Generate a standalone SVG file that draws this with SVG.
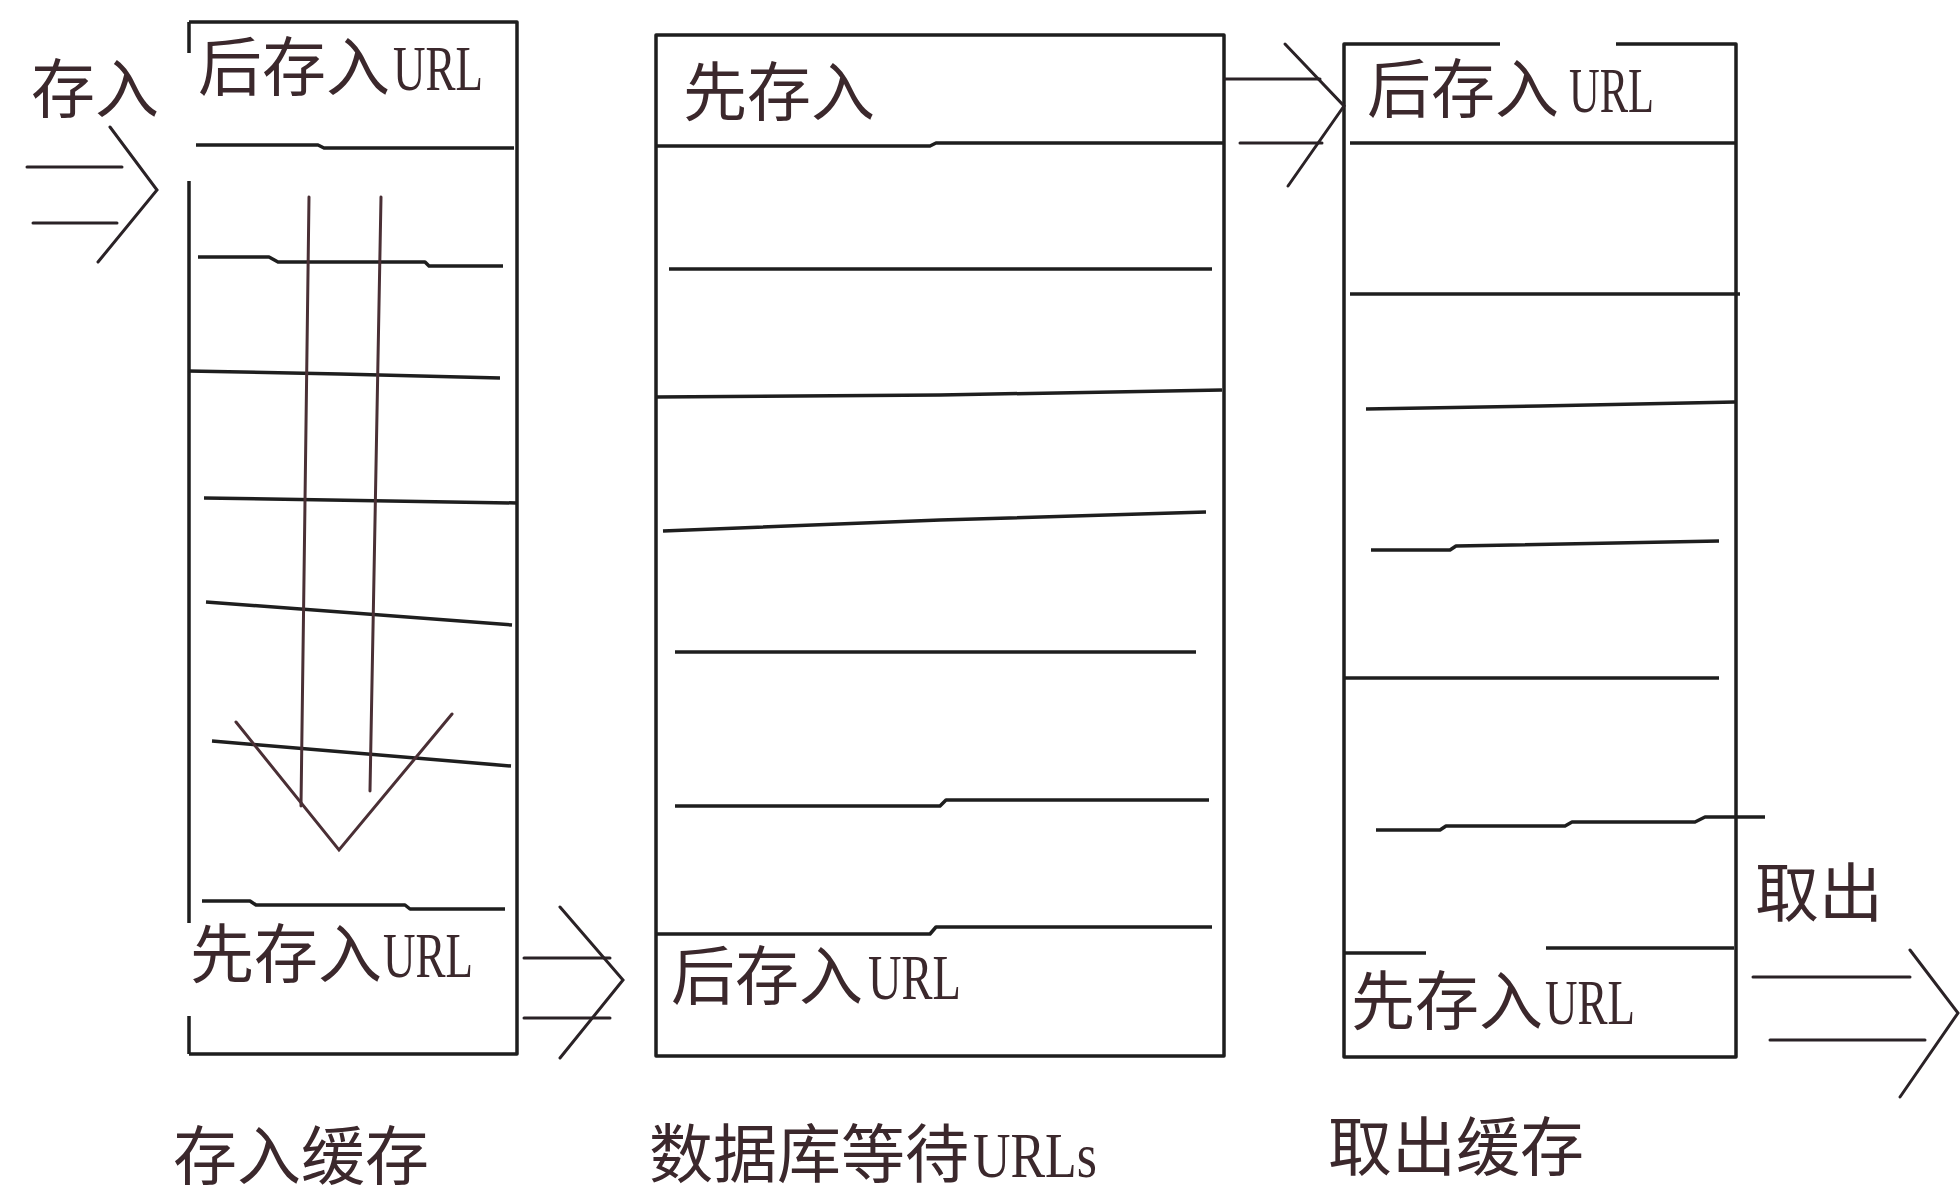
<svg xmlns="http://www.w3.org/2000/svg" width="1960" height="1198" viewBox="0 0 1960 1198">
<style>
.bg{fill:#ffffff}
.ln{fill:none;stroke:#1e1e1e;stroke-width:3.5;stroke-linejoin:round;stroke-linecap:butt}
.ar{fill:none;stroke:#2a2226;stroke-width:3;stroke-linecap:round;stroke-linejoin:miter}
.red{fill:none;stroke:#4a2f35;stroke-width:3;stroke-linecap:round}
.t{font-family:"Noto Sans CJK SC","Noto Sans CJK JP",sans-serif;font-size:64px;fill:#3b282c}
.u{font-family:"Liberation Serif",serif;font-size:64px}
</style>
<rect class="bg" x="0" y="0" width="1960" height="1198"/>

<g id="store-cache">
  <path class="ln" d="M189,22 H517 V1054 H189 M189,22 V53 M189,181 V923 M189,1016 V1054"/>
  <polyline class="ln" points="196,145 318,145 324,148 514,148"/>
  <polyline class="ln" points="198,257 269,257 278,262 425,262 429,266 503,266"/>
  <polyline class="ln" points="188,371 340,374 500,378"/>
  <polyline class="ln" points="204,498 517,503"/>
  <polyline class="ln" points="206,602 512,625"/>
  <polyline class="ln" points="212,741 511,766"/>
  <polyline class="ln" points="202,901 250,901 256,905 405,905 410,909 505,909"/>
  <text class="t" y="90"><tspan x="198">后存入</tspan><tspan class="u" x="393" textLength="90" lengthAdjust="spacingAndGlyphs">URL</tspan></text>
  <text class="t" y="977"><tspan x="190">先存入</tspan><tspan class="u" x="383" textLength="90" lengthAdjust="spacingAndGlyphs">URL</tspan></text>
  <g id="push-down-arrow">
    <line class="red" x1="309" y1="197" x2="301" y2="806"/>
    <line class="red" x1="381" y1="197" x2="370" y2="791"/>
    <polyline class="red" points="236,722 339,850 452,714"/>
  </g>
</g>

<g id="db-waiting">
  <rect class="ln" x="656" y="35" width="568" height="1021"/>
  <polyline class="ln" points="656,146 930,146 936,143 1224,143"/>
  <polyline class="ln" points="669,269 1212,269"/>
  <polyline class="ln" points="656,397 940,395 1222,390"/>
  <polyline class="ln" points="663,531 940,520 1206,512"/>
  <polyline class="ln" points="675,652 1196,652"/>
  <polyline class="ln" points="675,806 940,806 946,800 1209,800"/>
  <polyline class="ln" points="656,934 930,934 936,927 1212,927"/>
  <text class="t" y="115"><tspan x="683">先存入</tspan></text>
  <text class="t" y="999"><tspan x="671">后存入</tspan><tspan class="u" x="868" textLength="93" lengthAdjust="spacingAndGlyphs">URL</tspan></text>
</g>

<g id="fetch-cache">
  <path class="ln" d="M1500,44 H1344 V1057 H1736 V44 H1616"/>
  <polyline class="ln" points="1350,143 1735,143"/>
  <polyline class="ln" points="1350,294 1740,294"/>
  <polyline class="ln" points="1366,409 1540,406 1735,402"/>
  <polyline class="ln" points="1371,550 1450,550 1456,546 1719,541"/>
  <polyline class="ln" points="1344,678 1719,678"/>
  <polyline class="ln" points="1376,830 1440,830 1446,826 1565,826 1572,822 1695,822 1705,817 1765,817"/>
  <polyline class="ln" points="1344,953 1426,953"/>
  <polyline class="ln" points="1546,948 1734,948"/>
  <text class="t" y="112"><tspan x="1367">后存入</tspan><tspan class="u" x="1569" textLength="85" lengthAdjust="spacingAndGlyphs">URL</tspan></text>
  <text class="t" y="1024"><tspan x="1351">先存入</tspan><tspan class="u" x="1545" textLength="90" lengthAdjust="spacingAndGlyphs">URL</tspan></text>
</g>

<g id="labels">
  <text id="label-in" class="t" x="31" y="112">存入</text>
  <text id="label-out" class="t" x="1755" y="916">取出</text>
  <text id="caption-store" class="t" x="173" y="1179">存入缓存</text>
  <text id="caption-db" class="t" y="1177"><tspan x="649">数据库等待</tspan><tspan class="u" x="973" textLength="124" lengthAdjust="spacingAndGlyphs">URLs</tspan></text>
  <text id="caption-fetch" class="t" x="1328" y="1170">取出缓存</text>
</g>

<g id="connectors">
  <g id="arrow-in">
    <line class="ar" x1="27" y1="167" x2="122" y2="167"/>
    <line class="ar" x1="33" y1="223" x2="117" y2="223"/>
    <polyline class="ar" points="110,127 157,190 98,262"/>
  </g>
  <g id="arrow-store-db">
    <line class="ar" x1="524" y1="958" x2="610" y2="958"/>
    <line class="ar" x1="524" y1="1018" x2="610" y2="1018"/>
    <polyline class="ar" points="560,907 623,980 560,1058"/>
  </g>
  <g id="arrow-db-fetch">
    <line class="ar" x1="1225" y1="79" x2="1320" y2="79"/>
    <line class="ar" x1="1240" y1="143" x2="1322" y2="143"/>
    <polyline class="ar" points="1285,44 1344,106 1288,186"/>
  </g>
  <g id="arrow-out">
    <line class="ar" x1="1753" y1="977" x2="1910" y2="977"/>
    <line class="ar" x1="1770" y1="1040" x2="1925" y2="1040"/>
    <polyline class="ar" points="1910,950 1958,1013 1900,1097"/>
  </g>
</g>
</svg>
